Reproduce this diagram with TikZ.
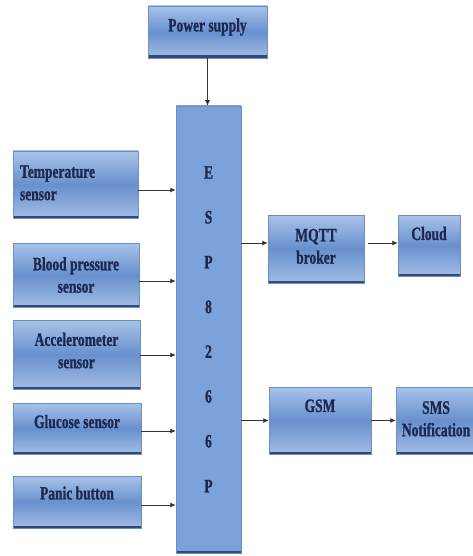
\documentclass[tikz,border=0pt]{standalone}
\usepackage{fontspec}
\setmainfont{Liberation Serif}[BoldFeatures={FakeBold=1.2}]
\usepackage{graphicx}
\usetikzlibrary{positioning,arrows.meta}
\definecolor{boxtop}{HTML}{A9C3E9}
\definecolor{boxmid}{HTML}{6890CD}
\definecolor{boxbot}{HTML}{A2BDE5}
\definecolor{boxline}{HTML}{6F8FC0}
\definecolor{boxedge}{HTML}{30497A}
\definecolor{boxtext}{HTML}{1B2850}
\definecolor{espfill}{HTML}{7BA2DA}
\definecolor{arrline}{HTML}{333333}
% Label text, stretched upwards; optional raise
\newcommand*{\lbl}[2][0pt]{\raisebox{#1}[\height][\depth]{\scalebox{1}[1.4]{\begin{tabular}{@{}c@{}}#2\end{tabular}}}}
\newcommand*{\lbll}[2][0pt]{\raisebox{#1}[\height][\depth]{\scalebox{1}[1.4]{\begin{tabular}{@{}l@{}}#2\end{tabular}}}}

\begin{document}
\begin{tikzpicture}[x=1pt,y=-1pt,
  blk/.style={draw=boxline,line width=0.5pt,top color=boxtop,bottom color=boxbot,
    middle color=boxmid,text=boxtext,inner sep=0pt,
    font=\bfseries\fontsize{13.5}{16}\selectfont,
    path picture={\fill[boxedge] (path picture bounding box.south west) rectangle
      ([yshift=2.5pt]path picture bounding box.south east);}},
  arr/.style={draw=arrline,line width=0.8pt,-{Latex[length=5.5pt,width=5pt]}}]
\useasboundingbox (0,0) rectangle (472,556);
% Supply on top
\node[blk,minimum width=119pt,minimum height=52pt] (pwr) at (207.5,32) {\lbl[5pt]{Power supply}};
% Controller column
\node[blk,top color=espfill,bottom color=espfill,middle color=espfill,
  minimum width=65pt,minimum height=447pt] (esp) at (208.5,329.5)
  {\renewcommand{\arraystretch}{2}\lbl[3pt]{E\\S\\P\\8\\2\\6\\6\\P}};
% Sensors on the left
\node[blk,text width=111pt,inner xsep=7pt,align=left,minimum height=67pt] (temp) at (75.5,184.5)
  {\lbll{Temperature\\sensor}};
\node[blk,minimum width=126pt,minimum height=64pt] (bp) at (76,275) {\lbl[-2pt]{Blood pressure\\sensor}};
\node[blk,minimum width=127pt,minimum height=69pt] (acc) at (76.5,354.5) {\lbl[2pt]{Accelerometer\\sensor}};
\node[blk,minimum width=128pt,minimum height=51pt] (glu) at (77,428.5) {\lbl[5pt]{Glucose sensor}};
\node[blk,minimum width=128pt,minimum height=52pt] (panic) at (77,502) {\lbl[7pt]{Panic button}};
% Outputs on the right
\node[blk,minimum width=96pt,minimum height=68pt] (mqtt) at (316,249) {\lbl[1pt]{MQTT\\broker}};
\node[blk,minimum width=62pt,minimum height=61pt] (cloud) at (429,245.5) {\lbl[10pt]{Cloud}};
\node[blk,minimum width=102pt,minimum height=67pt] (gsm) at (320,420.5) {\lbl[13pt]{GSM}};
\node[blk,minimum width=80pt,minimum height=67pt] (sms) at (436,420.5) {\lbl{SMS\\Notification}};
% Connectors
\draw[arr] (pwr.south) -- (pwr.south |- esp.north);
\foreach \n/\dy in {temp/-5.5,bp/-6,acc/-0.5,glu/-2.5,panic/-3}
  \draw[arr] ([yshift=\dy pt]\n.east) -- ([yshift=\dy pt]\n.east -| esp.west);
\draw[arr] ([yshift=6pt]mqtt.west -| esp.east) -- ([yshift=6pt]mqtt.west);
\draw[arr] ([yshift=6pt,xshift=4pt]mqtt.east) -- ([yshift=6pt]mqtt.east -| cloud.west);
\draw[arr] (gsm.west -| esp.east) -- (gsm.west);
\draw[arr] (gsm.east) -- (gsm.east -| sms.west);
\end{tikzpicture}
\end{document}
